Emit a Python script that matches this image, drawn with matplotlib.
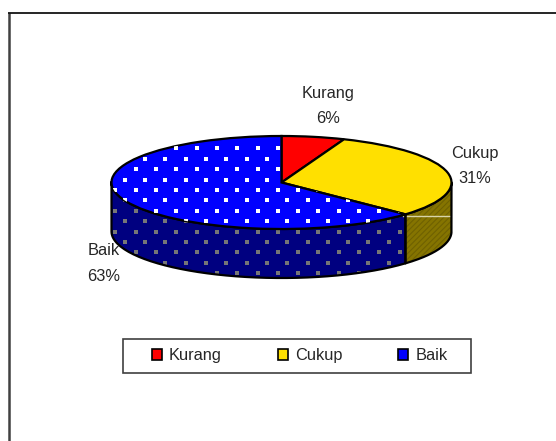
import matplotlib
matplotlib.use('Agg')
import matplotlib.pyplot as plt
from matplotlib.patches import Rectangle
import numpy as np

plt.rcParams['font.family'] = ['Liberation Sans', 'DejaVu Sans']
plt.rcParams['hatch.linewidth'] = 0.8

# data
labels = ['Kurang', 'Cukup', 'Baik']
values = [6, 31, 63]
top_colors = ['#ff0000', '#ffe000', '#0000ff']
side_colors = ['#800000', '#857400', '#000080']
label_pos = [(328.5, 106), (475, 166), (103.5, 263.5)]

W, H = 556, 441
cx, cy, rx, ry = 281.5, 182.5, 170, 46.5
depth = 49


# pixel -> pie coords (the unit circle is the top face of the pie)
def px(x):
    return (x - cx) / rx


def py(y):
    return (cy - y) / ry


fig = plt.figure(figsize=(W / 100, H / 100), dpi=100)
ax = fig.add_axes([0, 0, 1, 1])

wedges, _ = ax.pie(values, startangle=90, counterclock=False, colors=top_colors,
                   wedgeprops={'edgecolor': 'black', 'linewidth': 1.6, 'zorder': 5})
ax.set_aspect('auto')
ax.set_xlim(px(0), px(W))
ax.set_ylim(py(H), py(0))
ax.axis('off')

# side of the pie
d = depth / ry
edges = 90 - 360 * np.cumsum([0] + values) / sum(values)
side_polys = []
for i in range(len(values)):
    a0, a1 = max(edges[i + 1], -180), min(edges[i], 0)
    if a1 <= a0:
        side_polys.append(None)
        continue
    t = np.deg2rad(np.linspace(a0, a1, 80))
    xs = np.r_[np.cos(t), np.cos(t[::-1])]
    ys = np.r_[np.sin(t), np.sin(t[::-1]) - d]
    hatch = '//////' if labels[i] == 'Cukup' else None
    poly = ax.fill(xs, ys, facecolor=side_colors[i], edgecolor='#6f6100' if hatch else 'none',
                   hatch=hatch, linewidth=0, zorder=2)[0]
    ax.plot(np.r_[xs, xs[0]], np.r_[ys, ys[0]], color='black', lw=1.6, zorder=4)
    side_polys.append(poly)

# white line across the yellow side
ax.plot([px(403), px(450)], [py(216), py(216)], color='#d8d4a8', lw=1, zorder=3)

# dot pattern on the Baik slice
gx, gy = [], []
for k, row in enumerate(np.arange(148.3, 280, 10.4)):
    off = 176.3 if k % 2 == 0 else 165.5 - 20.3
    for col in np.arange(off - 60.9, 460, 20.3):
        gx.append(px(col))
        gy.append(py(row))
top_dots = ax.scatter(gx, gy, s=9, marker='s', color='white', linewidths=0, zorder=6)
top_dots.set_clip_path(wedges[2])
side_dots = ax.scatter(gx, gy, s=9, marker='s', color='#767676', linewidths=0, zorder=3)
side_dots.set_clip_path(side_polys[2])

# slice labels
for lab, val, (lx, ly) in zip(labels, values, label_pos):
    ax.text(px(lx), py(ly), f'{lab}\n{val}%', ha='center', va='center', fontsize=11.8,
            color='#262626', linespacing=1.9, zorder=7)

# legend, its box is wider than the entries so it is drawn apart
ax.add_patch(Rectangle((px(122.5), py(373)), px(471) - px(122.5), py(338.5) - py(373),
                       facecolor='white', edgecolor='#404040', linewidth=1.2, zorder=7))
leg = fig.legend(wedges, labels, ncols=3, loc='center', bbox_to_anchor=(299.5 / W, 1 - 355.5 / H),
                 fontsize=11.8, frameon=False,
                 handlelength=0.62, handleheight=0.62, handletextpad=0.43, columnspacing=3.4,
                 borderpad=0.62, borderaxespad=0, labelcolor='#262626')
for h in leg.legend_handles:
    h.set_linewidth(1.2)

# outer border: only left and top are there
ax.plot([px(9), px(9)], [py(H), py(12.5)], color='#404040', lw=1.8, solid_capstyle='butt', zorder=1)
ax.plot([px(8), px(W)], [py(12.5), py(12.5)], color='black', lw=1.2, solid_capstyle='butt', zorder=1)

fig.savefig('out.png', dpi=100)
